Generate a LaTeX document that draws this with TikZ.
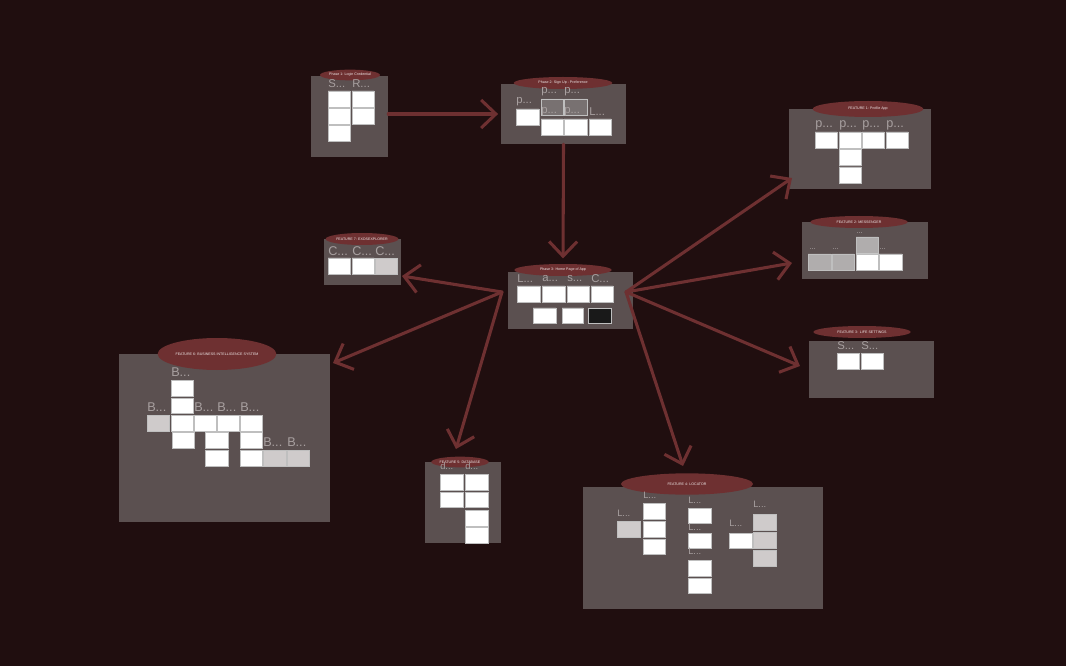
\documentclass[tikz,border=0pt]{standalone}
\usepackage{fontspec}
\setmainfont{Liberation Sans}
\usetikzlibrary{arrows.meta, shapes.geometric, fit, positioning}
\definecolor{bgdark}{HTML}{200E0F}
\definecolor{boardgray}{HTML}{5B5050}
\definecolor{wine}{HTML}{6E3031}
\definecolor{labelgray}{HTML}{A8A0A0}
\definecolor{shotgray}{HTML}{CFCBCB}
\definecolor{shotdark}{HTML}{787171}

\begin{document}
\begin{tikzpicture}[x=0.75pt, y=-0.75pt,
        board/.style={fill=boardgray, inner sep=0pt},
        tag/.style={ellipse, fill=wine, inner sep=0pt, text=white!90!wine, font=\fontsize{2.7}{3}\selectfont},
        lbl/.style={anchor=west, inner sep=0pt, text=labelgray, font=\fontsize{#1}{#1}\selectfont},
        lbl/.default=8.5,
        shot/.style={fill=white, draw=white!75!black, line width=0.2pt},
        flow/.style={draw=wine, line width=2.3pt, line cap=round, -{Straight Barb[length=11pt, width=21pt]}}]
    \useasboundingbox (0,0) rectangle (1066,666);
    \fill[bgdark] (0,0) rectangle (1066,666);

    % boards
    \node[board, fit={(311,76) (388,157)}] (p1) {};
    \node[board, fit={(501,84) (626,144)}] (p2) {};
    \node[board, fit={(508,272) (633,329)}] (p3) {};
    \node[board, fit={(789,109) (931,189)}] (f1) {};
    \node[board, fit={(802,222) (928,279)}] (f2) {};
    \node[board, fit={(809,341) (934,398)}] (f3) {};
    \node[board, fit={(324,239) (401,285)}] (f7) {};
    \node[board, fit={(119,354) (330,522)}] (f6) {};
    \node[board, fit={(425,462) (501,543)}] (f5) {};
    \node[board, fit={(583,487) (823,609)}] (f4) {};

    % screenshots
    \path[shot] (328,91) rectangle (350,107) (352,91) rectangle (374,107)
        (328,108) rectangle (350,124) (352,108) rectangle (374,124)
        (328,125) rectangle (350,141);
    \path[shot] (516,109) rectangle (539,125) (541,119) rectangle (563,135)
        (564,119) rectangle (587,135) (589,119) rectangle (611,135);
    \path[shot, fill=shotdark] (541,99) rectangle (563,115) (564,99) rectangle (587,115);
    \path[shot] (517,286) rectangle (540,302) (542,286) rectangle (565,302)
        (567,286) rectangle (589,302) (591,286) rectangle (613,302)
        (533,308) rectangle (556,323) (562,308) rectangle (583,323);
    \path[shot, fill=black!90] (588,308) rectangle (611,323);
    \path[shot] (815,132) rectangle (837,148) (839,132) rectangle (861,148)
        (862,132) rectangle (884,148) (886,132) rectangle (908,148)
        (839,149) rectangle (861,165) (839,167) rectangle (861,183);
    \path[shot, fill=shotgray!85!black] (856,237) rectangle (878,253)
        (808,254) rectangle (831,270) (832,254) rectangle (854,270);
    \path[shot] (856,254) rectangle (878,270) (879,254) rectangle (902,270);
    \path[shot] (837,353) rectangle (859,369) (861,353) rectangle (883,369);
    \path[shot] (328,258) rectangle (350,274) (352,258) rectangle (374,274);
    \path[shot, fill=shotgray] (375,258) rectangle (397,274);
    \path[shot] (171,380) rectangle (193,396) (171,398) rectangle (193,413)
        (171,415) rectangle (193,431) (194,415) rectangle (216,431)
        (217,415) rectangle (239,431) (240,415) rectangle (262,431)
        (172,432) rectangle (194,448) (205,432) rectangle (228,448)
        (240,432) rectangle (262,448) (205,450) rectangle (228,466)
        (240,450) rectangle (262,466);
    \path[shot, fill=shotgray] (147,415) rectangle (169,431)
        (263,450) rectangle (286,466) (287,450) rectangle (309,466);
    \path[shot] (440,474) rectangle (463,490) (465,474) rectangle (488,490)
        (440,492) rectangle (463,507) (465,492) rectangle (488,507)
        (465,510) rectangle (488,526) (465,527) rectangle (488,543);
    \path[shot] (643,503) rectangle (665,519) (643,521) rectangle (665,537)
        (643,539) rectangle (665,554) (688,508) rectangle (711,523)
        (688,533) rectangle (711,548) (688,560) rectangle (711,576)
        (688,578) rectangle (711,593) (729,533) rectangle (752,548);
    \path[shot, fill=shotgray] (617,521) rectangle (640,537)
        (753,514) rectangle (776,530) (753,532) rectangle (776,548)
        (753,550) rectangle (776,566);

    % titles
    \node[tag, minimum width=45pt, minimum height=8pt] (p1t) at (350,75) {Phase 1: Login Credential};
    \node[tag, minimum width=74pt, minimum height=9pt] (p2t) at (563,83) {Phase 2: Sign Up - Preference};
    \node[tag, minimum width=73pt, minimum height=9pt] (p3t) at (563,270) {Phase 3: Home Page of App};
    \node[tag, minimum width=83pt, minimum height=12pt] (f1t) at (868,109) {FEATURE 1: Profile App};
    \node[tag, minimum width=73pt, minimum height=9pt] (f2t) at (859,222) {FEATURE 2: MESSENGER};
    \node[tag, minimum width=73pt, minimum height=9pt] (f3t) at (862,332) {FEATURE 3:\, LIFE SETTINGS};
    \node[tag, minimum width=46pt, minimum height=9pt] (f7t) at (362,239) {FEATURE 7: EXOSEXPLORER};
    \node[tag, minimum width=89pt, minimum height=24pt] (f6t) at (217,354) {FEATURE 6: BUSINESS INTELLIGENCE SYSTEM};
    \node[tag, minimum width=41pt, minimum height=8pt] (f5t) at (460,462) {FEATURE 5: DATABASE};
    \node[tag, minimum width=99pt, minimum height=16pt] (f4t) at (687,484) {FEATURE 4: LOCATOR};

    % screen labels
    \node[lbl] (p1s) at (328,84) {S...};
    \node[lbl] (p1r) at (352,84) {R...};
    \node[lbl] (p2a) at (516,102) {p...};
    \node[lbl] (p2b) at (541,92) {p...};
    \node[lbl] (p2c) at (564,92) {p...};
    \node[lbl] (p2d) at (541,112) {p...};
    \node[lbl] (p2e) at (564,112) {p...};
    \node[lbl] (p2f) at (589,112) {L...};
    \node[lbl] (p3a) at (517,279) {L...};
    \node[lbl] (p3b) at (542,279) {a...};
    \node[lbl] (p3c) at (567,279) {s...};
    \node[lbl] (p3d) at (591,279) {C...};
    \node[lbl=9.5] (f1a) at (815,125) {p...};
    \node[lbl=9.5] (f1b) at (839,125) {p...};
    \node[lbl=9.5] (f1c) at (862,125) {p...};
    \node[lbl=9.5] (f1d) at (886,125) {p...};
    \node[lbl=6] (f2a) at (809,249) {...};
    \node[lbl=6] (f2b) at (832,249) {...};
    \node[lbl=6] (f2c) at (856,233) {...};
    \node[lbl=6] (f2d) at (879,249) {...};
    \node[lbl] (f3a) at (837,346) {S...};
    \node[lbl] (f3b) at (861,346) {S...};
    \node[lbl=9.5] (f7a) at (328,251) {C...};
    \node[lbl=9.5] (f7b) at (352,251) {C...};
    \node[lbl=9.5] (f7c) at (375,251) {C...};
    \node[lbl=9.5] (f6a) at (171,372) {B...};
    \node[lbl=9.5] (f6b) at (147,407) {B...};
    \node[lbl=9.5] (f6c) at (194,407) {B...};
    \node[lbl=9.5] (f6d) at (217,407) {B...};
    \node[lbl=9.5] (f6e) at (240,407) {B...};
    \node[lbl=9.5] (f6f) at (263,442) {B...};
    \node[lbl=9.5] (f6g) at (287,442) {B...};
    \node[lbl=7] (f5a) at (440,466) {d...};
    \node[lbl=7] (f5b) at (465,466) {d...};
    \node[lbl=7] (f4a) at (643,495) {L...};
    \node[lbl=7] (f4b) at (617,513) {L...};
    \node[lbl=7] (f4c) at (688,500) {L...};
    \node[lbl=7] (f4d) at (688,527) {L...};
    \node[lbl=7] (f4e) at (688,551) {L...};
    \node[lbl=7] (f4f) at (729,523) {L...};
    \node[lbl=7] (f4g) at (753,504) {L...};

    % arrows
    \coordinate (hubL) at (502,292);
    \coordinate (hubR) at (626,292);
    \coordinate (f1in) at (792,178);
    \coordinate (f2in) at (792,263);
    \coordinate (f3in) at (800,366);
    \coordinate (f4in) at (683,466);
    \coordinate (f7in) at (402,276);
    \coordinate (f6in) at (333,363);
    \coordinate (f5in) at (456,449);
    \draw[flow] (p1.east |- p2.west) -- ([xshift=-2pt]p2.west);
    \draw[flow, shorten >=4pt] (p2.south) -- (p3t.north);
    \draw[flow] (hubR) -- (f1in);
    \draw[flow] (hubR) -- (f2in);
    \draw[flow] (hubR) -- (f3in);
    \draw[flow] (hubR) -- (f4in);
    \draw[flow] (hubL) -- (f7in);
    \draw[flow] (hubL) -- (f6in);
    \draw[flow] (hubL) -- (f5in);
\end{tikzpicture}
\end{document}
